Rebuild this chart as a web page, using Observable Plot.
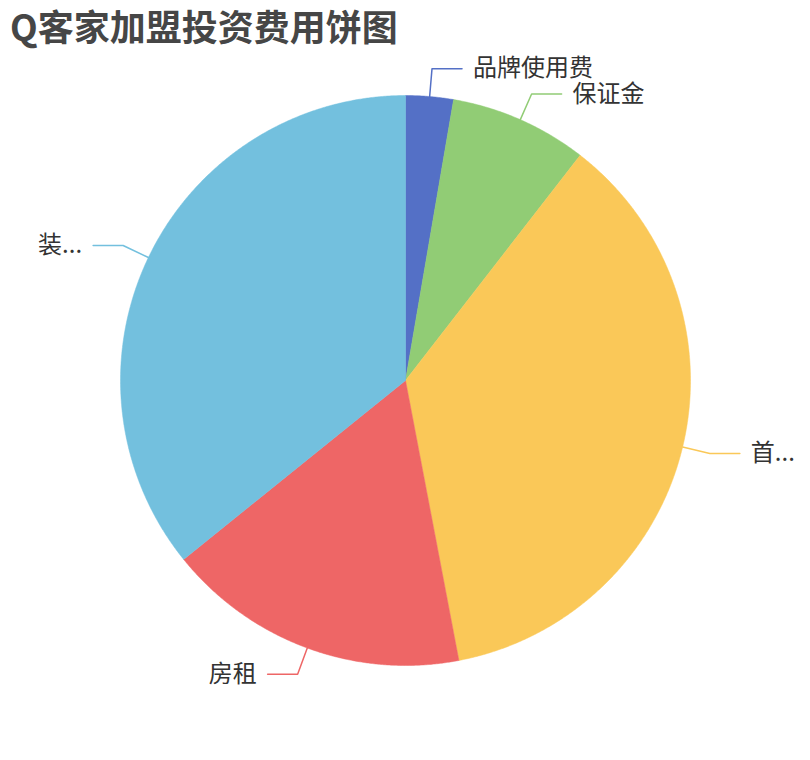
<!DOCTYPE html>
<html>
<head>
<meta charset="utf-8">
<script src="https://cdn.jsdelivr.net/npm/d3@7"></script>
<script src="https://cdn.jsdelivr.net/npm/@observablehq/plot@0.6"></script>
<style>
  html, body { margin: 0; padding: 0; background: #fff; }
  #title { height: 50px; line-height: 50px; padding-left: 10px; font-family: "Noto Sans CJK SC", sans-serif; font-weight: bold; font-size: 36px; color: #464646; white-space: nowrap; }
  svg { overflow: visible; }
</style>
</head>
<body>
<div id="title">Q客家加盟投资费用饼图</div>
<div id="chart"></div>
<script>
const categories = ["品牌使用费", "保证金", "首...", "房租", "装..."];
const values = [2.7, 7.8, 36.5, 17.2, 35.8];
const colors = ["#5470c6", "#91cc75", "#fac858", "#ee6666", "#73c0de"];

const R = 285; // px radius
const len1 = 28 / R, len2 = 30 / R, gap = 11 / R;

const pie = d3.pie().sort(null).value(d => d.value).startAngle(0).endAngle(2 * Math.PI);
const rows = categories.map((name, i) => ({name, value: values[i], color: colors[i]}));
const arcs = pie(rows);

const marks = [];
arcs.forEach(a => {
  const pts = [{x: 0, y: 0}];
  const n = Math.max(4, Math.ceil((a.endAngle - a.startAngle) / 0.005));
  for (let k = 0; k <= n; k++) {
    const t = a.startAngle + (a.endAngle - a.startAngle) * k / n;
    pts.push({x: Math.sin(t), y: Math.cos(t)});
  }
  pts.push({x: 0, y: 0});
  marks.push(Plot.line(pts, {x: "x", y: "y", fill: a.data.color, stroke: a.data.color, strokeWidth: 0.5, curve: "linear"}));
});

const labelLines = [];
const labels = [];
arcs.forEach(a => {
  const m = (a.startAngle + a.endAngle) / 2;
  const sx = Math.sin(m), sy = Math.cos(m);
  const re = 1 + len1;
  const ex = re * sx, ey = re * sy;
  const side = sx >= 0 ? 1 : -1;
  const hx = ex + side * len2;
  labelLines.push({name: a.data.name, color: a.data.color, x: sx, y: sy});
  labelLines.push({name: a.data.name, color: a.data.color, x: ex, y: ey});
  labelLines.push({name: a.data.name, color: a.data.color, x: hx, y: ey});
  labels.push({name: a.data.name, x: hx + side * gap, y: ey, anchor: side > 0 ? "start" : "end"});
});

categories.forEach(c => {
  marks.push(Plot.line(labelLines.filter(d => d.name === c), {x: "x", y: "y", stroke: d => d.color, strokeWidth: 1.5}));
});
marks.push(Plot.text(labels.filter(d => d.anchor === "start"), {x: "x", y: "y", text: "name", textAnchor: "start", fontSize: 24, fill: "#333"}));
marks.push(Plot.text(labels.filter(d => d.anchor === "end"), {x: "x", y: "y", text: "name", textAnchor: "end", fontSize: 24, fill: "#333"}));

const chart = Plot.plot({
  width: 810,
  height: 710,
  x: {domain: [-1, 1], range: [405 - R, 405 + R], axis: null},
  y: {domain: [-1, 1], range: [330 + R, 330 - R], axis: null},
  style: {fontFamily: "'Noto Sans CJK SC', sans-serif", background: "#fff", overflow: "visible"},
  marks
});
document.getElementById("chart").appendChild(chart);
</script>
</body>
</html>
